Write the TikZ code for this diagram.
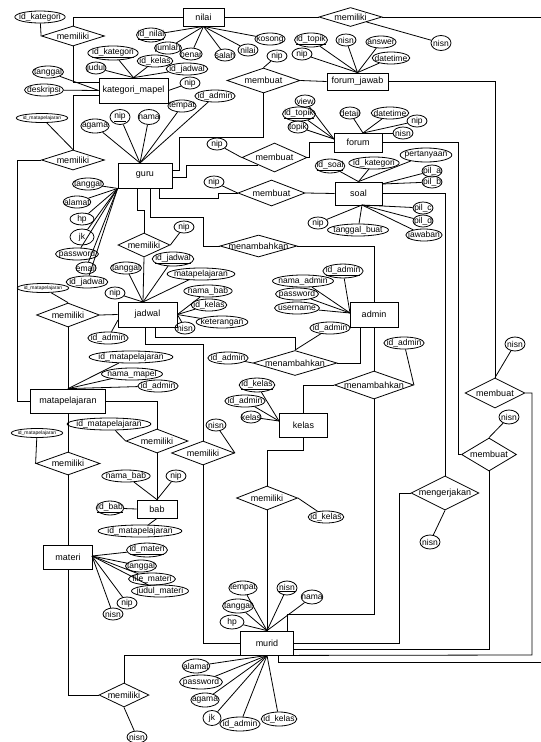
\documentclass[tikz,border=0pt]{standalone}
\usepackage{fontspec}
\setmainfont{Liberation Sans}
\usetikzlibrary{shapes.geometric}

\tikzset{
  entity/.style={draw, rectangle, inner sep=0pt, font=\fontsize{9}{10}\selectfont},
  relation/.style={draw, diamond, aspect=1, inner sep=0pt, font=\fontsize{9}{10}\selectfont,
    execute at begin node={\hbox to 0pt\bgroup\hss}, execute at end node={\hss\egroup}},
  attr/.style={draw, ellipse, inner xsep=-3pt, inner ysep=0pt, minimum height=12pt, minimum width=20pt, font=\fontsize{8.5}{9}\selectfont},
  tinyattr/.style={attr, inner xsep=-1pt, font=\fontsize{5}{6}\selectfont, minimum height=9pt},
}

\begin{document}
\begin{tikzpicture}[x=1pt, y=-1pt, line width=0.8pt]

    \useasboundingbox (0,0) rectangle (541,742); % page

    % entities
    \node[entity, minimum width=41, minimum height=18] (nilai) at (203.5,17) {nilai};
    \node[entity, minimum width=69, minimum height=25] (katmapel) at (133.5,90.5) {kategori\_mapel};
    \node[entity, minimum width=54, minimum height=25] (guru) at (145,175.5) {guru};
    \node[entity, minimum width=61, minimum height=17] (fjawab) at (357.5,81.5) {forum\_jawab};
    \node[entity, minimum width=48, minimum height=19] (forum) at (358,142.5) {forum};
    \node[entity, minimum width=47, minimum height=23] (soal) at (358.5,193.5) {soal};
    \node[entity, minimum width=48, minimum height=25] (admin) at (374,314.5) {admin};
    \node[entity, minimum width=59, minimum height=25] (jadwal) at (147.5,314.5) {jadwal};
    \node[entity, minimum width=75, minimum height=24] (mapel) at (68,401) {matapelajaran};
    \node[entity, minimum width=48, minimum height=24] (kelas) at (303.5,425) {kelas};
    \node[entity, minimum width=40, minimum height=18] (bab) at (157,509) {bab};
    \node[entity, minimum width=49, minimum height=24] (materi) at (68,557) {materi};
    \node[entity, minimum width=53, minimum height=24] (murid) at (267,643) {murid};

    % relations
    \node[relation, minimum width=63, minimum height=20] (milkat) at (73,36) {memiliki};
    \node[relation, minimum width=63, minimum height=19] (milnilai) at (350.5,17) {memiliki};
    \node[relation, minimum width=73, minimum height=25] (buatjawab) at (263.5,80.5) {membuat};
    \node[relation, minimum width=65, minimum height=29] (buatforum) at (274.5,157.5) {membuat};
    \node[relation, minimum width=67, minimum height=26] (buatsoal) at (271.5,193) {membuat};
    \node[relation, minimum width=63, minimum height=20] (milmapel) at (73,160) {memiliki};
    \node[relation, minimum width=52, minimum height=24] (miljadwal) at (144,245) {memiliki};
    \node[relation, minimum width=77, minimum height=22] (tambahguru) at (258.5,246) {menambahkan};
    \node[relation, minimum width=63, minimum height=24] (milmj) at (68,315) {memiliki};
    \node[relation, minimum width=84, minimum height=25] (tambahjadwal) at (295,363) {menambahkan};
    \node[relation, minimum width=79, minimum height=28] (tambahkelas) at (374,385) {menambahkan};
    \node[relation, minimum width=62, minimum height=24] (milbab) at (157,441) {memiliki};
    \node[relation, minimum width=63, minimum height=24] (milmurid) at (203,453) {memiliki};
    \node[relation, minimum width=64, minimum height=23] (milmateri) at (68,463.5) {memiliki};
    \node[relation, minimum width=61, minimum height=24] (milkelas) at (267,498) {memiliki};
    \node[relation, minimum width=60, minimum height=30] (buatjawabm) at (495,393) {membuat};
    \node[relation, minimum width=55, minimum height=33] (buatforumm) at (489,454.5) {membuat};
    \node[relation, minimum width=68, minimum height=34] (kerjakan) at (445,493) {mengerjakan};
    \node[relation, minimum width=50, minimum height=24] (milnisn) at (124,695) {memiliki};

    % attributes - nilai
    \node[attr] (kidkat) at (40,17) {id\_kategori};
    \node[attr] (nidnilai) at (151,35) {\underline{id\_nilai}};
    \node[attr] (njumlah) at (168,48) {jumlah};
    \node[attr] (nbenar) at (191,54) {benar};
    \node[attr] (nsalah) at (225,55) {salah};
    \node[attr] (nnilai) at (248,50) {nilai};
    \node[attr] (nkosong) at (270,39) {kosong};
    \node[attr, minimum height=15] (nnisn) at (441,43) {nisn};

    % attributes - kategori_mapel
    \node[attr] (kidkategori) at (113,53) {\underline{id\_kategori}};
    \node[attr] (kjudul) at (96,68) {judul};
    \node[attr] (kidkelas) at (155,61) {id\_kelas};
    \node[attr] (kidjadwal) at (187,69) {id\_jadwal};
    \node[attr] (ktanggal) at (48,72) {tanggal};
    \node[attr] (kdeskripsi) at (44,90) {deskripsi};
    \node[attr] (knip) at (190,83) {nip};
    \node[tinyattr] (kidmapel) at (42,118) {id\_matapelajaran};

    % attributes - guru
    \node[attr, minimum height=15] (gnip) at (120,117) {\underline{nip}};
    \node[attr, minimum height=15] (gnama) at (149,117) {nama};
    \node[attr, minimum height=14] (gagama) at (95,126) {agama};
    \node[attr] (gtempat) at (182,106) {tempat};
    \node[attr] (gidadmin) at (215,96) {id\_admin};
    \node[attr] (gtanggal) at (88,184) {tanggal};
    \node[attr] (galamat) at (77,202) {alamat};
    \node[attr, minimum width=24] (ghp) at (82,219) {hp};
    \node[attr, minimum width=24, minimum height=16] (gjk) at (82,237) {jk};
    \node[attr] (gpassword) at (77,254) {password};
    \node[attr] (gemail) at (86,268) {email};
    \node[attr] (gidjadwal) at (87,282) {id\_jadwal};

    % attributes - forum_jawab, forum, soal
    \node[attr] (jwidtopik) at (311,40) {\underline{id\_topik}};
    \node[attr] (jwnisn) at (346,40) {nisn};
    \node[attr] (jwnip) at (302,54) {nip};
    \node[attr] (jwanswer) at (381,42) {answer};
    \node[attr] (jwdatetime) at (391,58) {datetime};
    \node[attr] (bjnip) at (277,56) {nip};
    \node[attr] (fview) at (305,101) {view};
    \node[attr] (fidtopik) at (299,114) {\underline{id\_topik}};
    \node[attr] (ftopik) at (298,127) {topik};
    \node[attr] (fdetail) at (350,113) {detail};
    \node[attr] (fdatetime) at (390,113) {datetime};
    \node[attr] (fnip) at (417,121) {nip};
    \node[attr] (fnisn2) at (403,133) {nisn};
    \node[attr] (bfnip) at (217,144) {nip};
    \node[attr] (sidsoal) at (330,166) {\underline{id\_soal}};
    \node[attr] (sidkat) at (374,163) {id\_kategori};
    \node[attr, minimum height=14] (stanya) at (426,155) {pertanyaan};
    \node[attr] (spila) at (432,171) {pil\_a};
    \node[attr] (spilb) at (432,182) {pil\_b};
    \node[attr] (spilc) at (423,208) {pil\_c};
    \node[attr] (spild) at (423,221) {pil\_d};
    \node[attr] (sjawab) at (424,235) {jawaban};
    \node[attr] (stgl) at (358,230) {tanggal\_buat};
    \node[attr] (snip) at (318,223) {nip};
    \node[attr] (bsnip) at (214,182) {nip};

    % attributes - jadwal, admin
    \node[attr] (jnipg) at (184,227) {nip};
    \node[attr] (jtanggal) at (126,268) {tanggal};
    \node[attr] (jnip) at (115,293) {nip};
    \node[attr] (jidjadwal) at (173,259) {\underline{id\_jadwal}};
    \node[attr] (jmapel) at (201,274) {matapelajaran};
    \node[attr] (jnamabab) at (208,291) {nama\_bab};
    \node[attr] (jidkelas) at (209,305) {id\_kelas};
    \node[attr] (jket) at (222,322) {keterangan};
    \node[attr] (jnisn) at (185,328) {nisn};
    \node[attr] (jidadmin) at (108,338) {id\_admin};
    \node[tinyattr] (jidmapel) at (43,288) {id\_matapelajaran};
    \node[attr] (aidadmin) at (343,271) {\underline{id\_admin}};
    \node[attr] (anama) at (303,281) {nama\_admin};
    \node[attr] (apassword) at (297,294) {password};
    \node[attr] (ausername) at (297,308) {username};
    \node[attr] (aidadmin2) at (330,328) {id\_admin};
    \node[attr] (tjidadmin) at (228,358) {id\_admin};
    \node[attr] (tkidadmin) at (404,343) {id\_admin};

    % attributes - matapelajaran, bab, materi
    \node[attr] (midmapel) at (131,357) {id\_matapelajaran};
    \node[attr] (mnama) at (132,374) {nama\_mapel};
    \node[attr] (midadmin) at (158,386) {id\_admin};
    \node[attr] (bidmapel) at (109,424) {id\_matapelajaran};
    \node[tinyattr] (midmapel2) at (37,433) {id\_matapelajaran};
    \node[attr] (bnama) at (126,476) {nama\_bab};
    \node[attr] (bnip) at (176,476) {nip};
    \node[attr] (bidbab) at (110,508) {\underline{id\_bab}};
    \node[attr] (bidmapel2) at (140,531) {id\_matapelajaran};
    \node[attr] (tidmateri) at (147,550) {\underline{id\_materi}};
    \node[attr] (ttanggal) at (141,566) {tanggal};
    \node[attr] (tfile) at (152,579) {file\_materi};
    \node[attr] (tjudul) at (160,591) {judul\_materi};
    \node[attr] (tnip) at (127,603) {nip};
    \node[attr] (tnisn) at (113,614) {nisn};

    % attributes - kelas, murid, right side
    \node[attr] (lidkelas) at (257,385) {\underline{id\_kelas}};
    \node[attr] (lidadmin) at (245,401) {id\_admin};
    \node[attr] (lkelas) at (251,417) {kelas};
    \node[attr] (rnisn) at (216,425) {nisn};
    \node[attr] (lidkelas2) at (326,517) {id\_kelas};
    \node[attr, minimum height=14] (unisn) at (515,344) {nisn};
    \node[attr, minimum height=14] (fnisn) at (509,417) {nisn};
    \node[attr, minimum height=14] (knisn) at (430,542) {nisn};
    \node[attr, minimum height=14] (utempat) at (243,588) {tempat};
    \node[attr, minimum height=14] (utanggal) at (238,606) {tanggal};
    \node[attr, minimum width=24, minimum height=14] (uhp) at (232,622) {hp};
    \node[attr, minimum height=14] (unisn2) at (287,588) {\underline{nisn}};
    \node[attr, minimum height=14] (unama) at (312,597) {nama};
    \node[attr, minimum height=14] (ualamat) at (196,666) {alamat};
    \node[attr, minimum height=14] (upassword) at (201,682) {password};
    \node[attr, minimum height=14] (uagama) at (205,700) {agama};
    \node[attr, minimum width=18, minimum height=15] (ujk) at (212,718) {jk};
    \node[attr, minimum height=14] (uidadmin) at (240,724) {id\_admin};
    \node[attr, minimum height=14] (uidkelas) at (279,719) {id\_kelas};
    \node[attr] (bnisn) at (137,737) {nisn};

    % hubs
    \coordinate (gurutop) at (140,163);
    \coordinate (jadwaltop) at (143,302);
    \coordinate (jadwalsw) at (118,320);
    \coordinate (adminhub) at (350,313);
    \coordinate (materihub) at (92,556);
    \coordinate (kelashub) at (279,421);
    \coordinate (forumnw) at (334,139);
    \coordinate (forumn) at (363,133);
    \coordinate (soalne) at (382,184);
    \coordinate (soals) at (362,205);

    % attribute lines
    \foreach \a in {nidnilai,njumlah,nbenar,nsalah,nnilai,nkosong} \draw (nilai.south) -- (\a);
    \foreach \a in {kidkategori,kjudul,kidkelas,kidjadwal} \draw (katmapel.north) -- (\a);
    \foreach \a in {ktanggal,kdeskripsi} \draw (katmapel.west) -- (\a);
    \draw (katmapel.east) -- (knip);
    \foreach \a in {gnip,gnama,gagama,gtempat,gidadmin} \draw (gurutop) -- (\a);
    \foreach \a in {gtanggal,galamat,ghp,gjk,gpassword,gemail,gidjadwal} \draw (guru.south west) -- (\a);
    \foreach \a in {jwidtopik,jwnisn,jwnip,jwanswer,jwdatetime} \draw (fjawab.north) -- (\a);
    \foreach \a in {fview,fidtopik,ftopik} \draw (forumnw) -- (\a);
    \foreach \a in {fdetail,fdatetime,fnip,fnisn2} \draw (forumn) -- (\a);
    \foreach \a in {sidsoal,sidkat,stanya} \draw (soal.north) -- (\a);
    \foreach \a in {spila,spilb} \draw (soalne) -- (\a);
    \foreach \a in {spilc,spild,sjawab,stgl,snip} \draw (soals) -- (\a);
    \foreach \a in {jtanggal,jnip,jidjadwal,jmapel} \draw (jadwaltop) -- (\a);
    \foreach \a in {jnamabab,jidkelas,jket,jnisn} \draw (jadwal.east) -- (\a);
    \draw (jadwalsw) -- (jidadmin);
    \foreach \a in {aidadmin,anama,apassword,ausername} \draw (adminhub) -- (\a);
    \foreach \a in {midmapel,mnama,midadmin} \draw (mapel.north) -- (\a);
    \foreach \a in {bnama,bnip} \draw (bab.north) -- (\a);
    \draw (bab.west) -- (bidbab);
    \draw (bab.south) -- (bidmapel2);
    \foreach \a in {tidmateri,ttanggal,tfile,tjudul,tnip,tnisn} \draw (materihub) -- (\a);
    \foreach \a in {lidkelas,lidadmin,lkelas} \draw (kelashub) -- (\a);
    \foreach \a in {utempat,utanggal,uhp,unisn2,unama} \draw (murid.north) -- (\a);
    \foreach \a in {ualamat,upassword,uagama,ujk,uidadmin,uidkelas} \draw (murid.south) -- (\a);

    % nilai / kategori_mapel
    \draw (nilai.west) -| (milkat.north);
    \draw (milkat.south) |- ([yshift=8.5pt]katmapel.west);
    \draw (kidkat) -- (milkat.west);
    \draw (nilai.east) -- (milnilai.west);
    \draw (milnilai.east) -- (541,17); % runs off the page
    \draw (milnilai.south east) -- (nnisn);
    \draw ([yshift=-4.5pt]katmapel.west) -| (milmapel.north);
    \draw (kidmapel) -- (milmapel.north);
    \draw (milmapel.west) -- (17,160) |- (mapel.west);

    % guru
    \draw (fjawab.west) -- (buatjawab.east);
    \draw (bjnip) -- (buatjawab.north);
    \draw (buatjawab.south) |- (179,137) |- ([yshift=5pt]guru.east);
    \draw ([yshift=-1.5pt]guru.east) -- (186,177) |- (buatforum.south west);
    \draw (bfnip) -- (buatforum.west);
    \draw (buatforum.east) -- (309,157.5) |- (forum.west);
    \draw ([xshift=14pt]guru.south) -- (159,198) -- (218,198) |- (buatsoal.west);
    \draw (bsnip) -- (buatsoal.west);
    \draw (buatsoal.east) -- (soal.west);
    \draw ([xshift=-8pt]guru.south) -- (137,210) -| (miljadwal.north);
    \draw (jnipg) -- (miljadwal.east);
    \draw (miljadwal.south) -- (jadwaltop);
    \draw ([xshift=5pt]guru.south) |- (203,217) |- (tambahguru.west);
    \draw (tambahguru.east) -| (admin.north);

    % jadwal / admin
    \draw ([xshift=7.5pt]jadwal.south) -- (155,337) -| (tambahjadwal.north);
    \draw (aidadmin2) -- (tambahjadwal.north);
    \draw (tjidadmin) -- (tambahjadwal.west);
    \draw (tambahjadwal.east) -| ([xshift=-14pt]admin.south);
    \draw (admin.south) -- (tambahkelas.north);
    \draw (tkidadmin) -- (tambahkelas.east);
    \draw (tambahkelas.west) -| (kelas.north);
    \draw (tambahkelas.south) |- (287,614) -- ([xshift=20pt]murid.north);
    \draw ([xshift=-2.5pt]jadwal.south) |- (203,344) -- (milmurid.north);
    \draw (milmurid.south) |- (murid.west);
    \draw (rnisn) -- (milmurid.east);
    \draw (jadwal.west) -- (milmj.east);
    \draw (jidmapel) -- (milmj.north);
    \draw (milmj.south) -- (mapel.north);

    % matapelajaran / bab / materi
    \draw (mapel.east) -| (milbab.north);
    \draw (bidmapel) -- (milbab.west);
    \draw (milbab.south) -- (bab.north);
    \draw (mapel.south) -- (milmateri.north);
    \draw (milmateri.south) -- (materi.north);
    \draw (midmapel2) -- (milmateri.west);
    \draw (materi.south) |- (milnisn.west);
    \draw (milnisn.north) |- (murid.south west);
    \draw (milnisn.south) -- (bnisn);

    % kelas / murid
    \draw (kelas.south) -- (303.5,450) -| (milkelas.north);
    \draw (milkelas.south) -- (murid.north);
    \draw (milkelas.east) -- (lidkelas2);
    \draw (murid.south east) -- (532,655) |- (buatjawabm.east);
    \draw ([yshift=-6pt]murid.east) -| (buatforumm.south);
    \draw (murid.east) -- (399,643) |- (kerjakan.west);
    \draw ([xshift=11pt]murid.south) -- (278,662) -- (541,662); % runs off the page

    % right side
    \draw (fjawab.east) -| (buatjawabm.north);
    \draw (unisn) -- (buatjawabm.north);
    \draw (forum.east) -- (458,142.5) |- (buatforumm.west);
    \draw (fnisn) -- (buatforumm.north);
    \draw (soal.east) -| (kerjakan.north);
    \draw (kerjakan.south) -- (knisn);

\end{tikzpicture}
\end{document}
